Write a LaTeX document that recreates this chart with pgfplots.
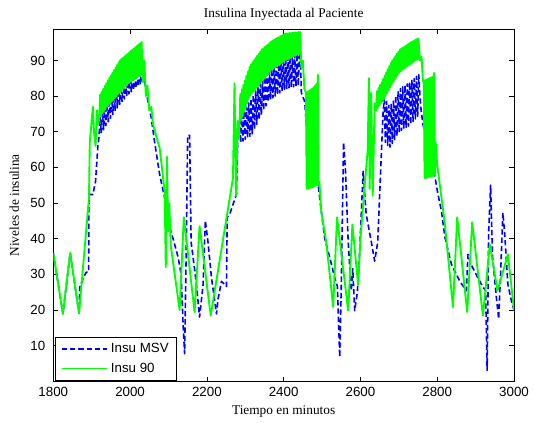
\documentclass[border=0pt]{standalone}
\usepackage{fontspec}
\setmainfont{Liberation Serif}
\newfontfamily\arialfont{Liberation Sans}
\usepackage{pgfplots}
\pgfplotsset{compat=1.18}
\definecolor{mblue}{RGB}{0,0,255}
\definecolor{mgreen}{RGB}{0,255,0}
\begin{document}
\begin{tikzpicture}
\begin{axis}[
  at={(0,0)}, anchor=south west,
  scale only axis, width=345.75pt, height=264pt,
  xmin=1800, xmax=3000, ymin=0, ymax=98.7,
  xtick={1800,2000,2200,2400,2600,2800,3000},
  ytick={10,20,30,40,50,60,70,80,90},
  tick align=inside, major tick length=3.5pt,
  tick style={black, line width=0.5pt},
  axis line style={black, line width=0.6pt},
  /pgf/number format/assume math mode=true,
  /pgf/number format/1000 sep={},
  ticklabel style={font=\arialfont\fontsize{10}{12}\selectfont},
  yticklabel style={xshift=-2.5pt},
  xticklabel style={yshift=-1pt},
  title={Insulina Inyectada al Paciente},
  title style={at={(0.5,1)}, anchor=south, yshift=-2.5pt, font=\fontsize{10}{12}\selectfont},
  xlabel={Tiempo en minutos},
  xlabel style={at={(0.5,0)}, anchor=north, yshift=-15pt, font=\fontsize{10}{12}\selectfont},
  ylabel={Niveles de insulina},
  ylabel style={at={(axis description cs:-0.064,0.5)}, anchor=south, font=\fontsize{10}{12}\selectfont},
  legend style={at={(0.004,0.002)}, anchor=south west, draw=black, line width=0.6pt,
    font=\arialfont\fontsize{10}{12}\selectfont, inner xsep=4pt, inner ysep=2.5pt,
    row sep=2pt},
  legend cell align=left,
  legend image code/.code={\draw[#1] (0cm,0cm) -- (1.2cm,0cm);},
]
\addplot[mblue, line width=1.2pt, dash pattern=on 4pt off 2.2pt, line join=round] coordinates {
(1800,36)(1825,18.9)(1844,36)(1867,19)(1869,26.4)(1878,29)(1886,30.6)(1892,30.6)(1893,52.4)(1903,52.4)(1910,56)(1916,66)
(1919,68.5)(1922,74.1)(1925,69.6)(1928,75.4)(1931,70.6)(1934,76.6)(1937,71.7)(1940,77.9)(1943,72.8)(1946,79.2)(1949,73.8)(1952,80.4)(1955,74.8)(1958,81.6)(1961,75.8)(1964,82.8)(1967,76.7)(1970,84.0)(1973,77.7)(1976,85.1)(1979,78.5)(1982,85.6)(1985,79.2)(1988,86.0)(1991,79.9)(1994,86.5)(1997,80.6)(2000,87.0)(2003,81.2)(2006,87.4)(2009,81.7)(2012,87.8)(2015,82.2)(2018,88.2)(2021,82.7)(2024,88.6)(2027,83.2)(2030,89.0)
(2033,84)(2036,86)
(2042,81)(2055,74)(2064,67)(2077,58)(2090,51.5)(2099,44.6)(2112,40)(2125,34.8)(2133,30)(2138,16)(2142,7.7)(2146,34.8)(2150,69)(2155,69)(2159,39)(2172,28)(2181,18)(2190,27)(2196,45)(2203,39)(2212,29)(2225,18.9)(2229,23)(2238,28)(2248,27)(2251,26.6)(2253,46)(2260,47)(2268,49.6)(2277,52.4)(2281,70)(2285,73)
(2288,67.0)(2291,74.6)(2294,67.4)(2297,75.8)(2300,67.9)(2303,76.9)(2306,68.3)(2309,78.1)(2312,68.7)(2315,79.3)(2318,69.4)(2321,80.3)(2324,70.7)(2327,81.4)(2330,72.1)(2333,82.4)(2336,73.4)(2339,83.4)(2342,74.7)(2345,84.4)(2348,76.0)(2351,85.4)(2354,77.3)(2357,86.5)(2360,78.5)(2363,87.1)(2366,79.0)(2369,87.7)(2372,79.5)(2375,88.2)(2378,80.0)(2381,88.7)(2384,80.4)(2387,89.2)(2390,80.9)(2393,89.7)(2396,81.4)(2399,90.3)(2402,81.9)(2405,90.7)(2408,82.1)(2411,90.9)(2414,82.3)(2417,91.1)(2420,82.4)(2423,91.3)(2426,82.6)(2429,91.6)(2432,82.8)(2435,91.8)(2438,82.9)(2441,92.0)(2444,90)
(2446,81)(2455,78.4)(2459,72)(2490,55)(2498,47.7)(2507,40)(2520,34.8)(2533,29)(2540,26.6)(2546,6.8)(2550,26)(2553,46.8)(2556,67)(2561,59)(2568,39.3)(2576,25.4)(2580,31.6)(2585,19.8)(2592,25)(2598,36.5)(2607,58.9)(2615,46.8)(2628,39.3)(2637,33.7)(2645,39)(2654,62.6)(2659,75.6)(2662,79)
(2665,67.0)(2668,78.5)(2671,66.2)(2674,77.4)(2677,65.7)(2680,77.8)(2683,66.7)(2686,78.9)(2689,67.8)(2692,80.1)(2695,68.8)(2698,81.2)(2701,69.8)(2704,82.1)(2707,70.4)(2710,82.6)(2713,70.8)(2716,83.0)(2719,71.2)(2722,83.4)(2725,71.6)(2728,83.9)(2731,72.1)(2734,84.4)(2737,72.9)(2740,84.9)(2743,73.6)(2746,85.5)(2749,74.3)(2752,86.0)
(2755,80)(2758,76)(2763,72)(2793,58)(2802,52.4)(2811,47.7)(2820,40.4)(2837,32.8)(2859,28)(2876,25.4)(2880,35.6)(2887,33)(2906,29)(2919,26.4)(2926,25.5)(2930,3)(2934,42)(2939,55)(2944,35)(2954,23.6)(2960,17.5)(2965,30)(2971,47.3)(2976,41)(2984,27.2)(2993,22.6)(3000,20)
};
\addlegendentry{Insu MSV}
\addplot[mgreen, line width=1.4pt, line join=round] coordinates {
(1800,36)(1825,18.9)(1844,36)(1867,19)(1893,51.5)(1895,67)(1903,77)(1906,70)(1910,66)(1914,76)(1917,72)
(1920,74.0)(1922,80.4)(1924,74.6)(1926,81.2)(1928,75.2)(1930,82.0)(1932,75.8)(1934,82.8)(1936,76.4)(1938,83.6)(1940,77.0)(1942,84.4)(1944,77.5)(1946,85.1)(1948,78.0)(1950,85.8)(1952,78.5)(1954,86.5)(1956,78.9)(1958,87.3)(1960,79.4)(1962,88.0)(1964,79.9)(1966,88.7)(1968,80.4)(1970,89.5)(1972,80.9)(1974,90.1)(1976,81.3)(1978,90.5)(1980,81.8)(1982,90.8)(1984,82.2)(1986,91.2)(1988,82.7)(1990,91.6)(1992,83.1)(1994,91.9)(1996,83.6)(1998,92.3)(2000,84.0)(2002,92.7)(2004,84.3)(2006,93.0)(2008,84.5)(2010,93.4)(2012,84.8)(2014,93.8)(2016,85.1)(2018,94.1)(2020,85.3)(2022,94.5)(2024,85.6)(2026,94.8)(2028,85.9)(2030,95.2)
(2033,84)(2037,90)(2041,80)(2045,83)(2050,76)(2055,77)(2060,72)(2070,68)(2077,65.5)(2085,58)(2090,53)(2093,32)(2096,63)(2099,42)(2102,50)(2106,38)(2129,20)(2140,46)(2168,19.4)(2181,43.5)(2210,18.4)(2268,57)(2272,83.6)(2276,52)(2280,73)(2283,68)
(2285,72.0)(2287,80.6)(2289,73.2)(2291,81.9)(2293,74.4)(2295,83.1)(2297,75.6)(2299,84.4)(2301,76.7)(2303,85.7)(2305,77.9)(2307,86.9)(2309,79.1)(2311,88.2)(2313,80.1)(2315,88.9)(2317,80.7)(2319,89.5)(2321,81.2)(2323,90.1)(2325,81.7)(2327,90.7)(2329,82.3)(2331,91.3)(2333,82.8)(2335,91.9)(2337,83.3)(2339,92.5)(2341,83.9)(2343,93.1)(2345,84.4)(2347,93.4)(2349,84.9)(2351,93.8)(2353,85.4)(2355,94.2)(2357,85.9)(2359,94.5)(2361,86.4)(2363,94.9)(2365,86.9)(2367,95.3)(2369,87.4)(2371,95.6)(2373,87.7)(2375,95.8)(2377,88.0)(2379,96.1)(2381,88.3)(2383,96.3)(2385,88.6)(2387,96.5)(2389,88.9)(2391,96.8)(2393,89.2)(2395,97.0)(2397,89.5)(2399,97.3)(2401,89.8)(2403,97.5)(2405,90.1)(2407,97.6)(2409,90.3)(2411,97.6)(2413,90.5)(2415,97.7)(2417,90.7)(2419,97.7)(2421,90.9)(2423,97.8)(2425,91.1)(2427,97.8)(2429,91.3)(2431,97.9)(2433,91.5)(2435,97.9)(2437,91.7)(2439,98.0)(2441,91.9)(2443,98.0)
(2446,88)(2450,90)(2454,82)(2458,81)
(2460,54)(2462,81.2)(2464,54)(2466,81.5)(2468,54.2)(2470,81.8)(2472,54.3)(2474,82.1)(2476,54.5)(2478,82.5)(2480,54.7)(2482,83)(2484,55)(2486,83.5)(2488,55)(2489,86)(2491,55)
(2493,56)(2498,47.6)(2511,39)(2529,20.8)(2539,46)(2568,19.8)(2579,44)(2594,27)(2600,40)(2612,56)(2619,65)(2622,85)(2624,54)(2628,81)(2632,52)(2637,78)
(2641,76.0)(2643,81.4)(2645,76.6)(2647,82.3)(2649,77.3)(2651,83.1)(2653,77.9)(2655,83.9)(2657,78.5)(2659,84.8)(2661,79.2)(2663,85.7)(2665,80.0)(2667,86.6)(2669,80.8)(2671,87.5)(2673,81.6)(2675,88.4)(2677,82.4)(2679,89.3)(2681,83.2)(2683,90.0)(2685,83.9)(2687,90.6)(2689,84.6)(2691,91.2)(2693,85.2)(2695,91.9)(2697,85.9)(2699,92.5)(2701,86.6)(2703,93.1)(2705,87.0)(2707,93.4)(2709,87.4)(2711,93.6)(2713,87.7)(2715,93.9)(2717,88.0)(2719,94.2)(2721,88.3)(2723,94.5)(2725,88.6)(2727,94.8)(2729,88.9)(2731,95.1)(2733,89.2)(2735,95.3)(2737,89.5)(2739,95.5)(2741,89.8)(2743,95.8)(2745,90.1)(2747,96.0)(2749,90.4)(2751,96.2)
(2755,90)(2759,91)(2763,84)
(2765,84.3)(2767,57)(2769,84.5)(2771,57)(2773,84.7)(2775,57.2)(2777,84.9)(2779,57.3)(2781,85.1)(2783,57.4)(2785,85.3)(2787,57.5)(2789,85.5)(2791,57.6)(2792,86.5)(2794,58)
(2796,67)(2800,60.7)(2820,44)(2841,20.8)(2852,46)(2878,19.4)(2891,44.6)(2919,18.4)(2937,38.4)(2957,25.4)(2984,35.6)(3000,20)
};
\addlegendentry{Insu 90}
\end{axis}
\pgfresetboundingbox
\path (-40pt,-31.1pt) rectangle (360.75pt,286.1pt);
\end{tikzpicture}
\end{document}
